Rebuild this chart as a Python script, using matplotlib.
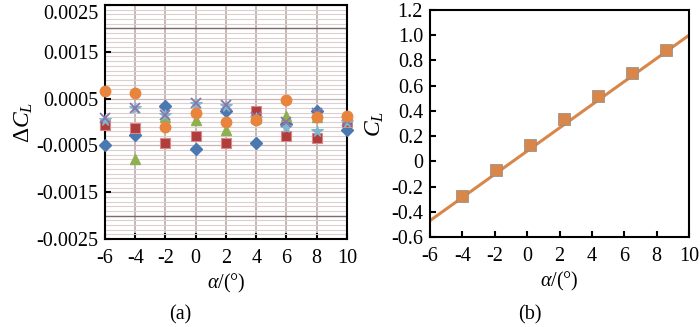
import numpy as np
import matplotlib
matplotlib.use('Agg')
import matplotlib.pyplot as plt
from matplotlib.ticker import MultipleLocator

plt.rcParams['font.family'] = ['Liberation Serif', 'DejaVu Serif']
plt.rcParams['mathtext.fontset'] = 'custom'
plt.rcParams['mathtext.rm'] = 'Liberation Serif'
plt.rcParams['mathtext.it'] = 'Liberation Serif:italic'
plt.rcParams['axes.unicode_minus'] = False

# (a) 升力系数偏差
alpha_a = [-6, -4, -2, 0, 2, 4, 6, 8, 10]
dcl_blue = [-0.00050, -0.00027, 0.00034, -0.00057, 0.00023, -0.00045, -0.00005, 0.00023, -0.00016]
dcl_red = [-0.00006, -0.00013, -0.00045, -0.00030, -0.00044, 0.00023, -0.00030, -0.00034, 0.00001]
dcl_green = [-0.00005, -0.00080, 0.00010, 0.00005, -0.00018, 0.00008, 0.00012, 0.00010, 0.00005]
dcl_purple = [0.00009, 0.00030, 0.00016, 0.00041, 0.00037, 0.00010, 0.00000, 0.00020, 0.00003]
dcl_aqua = [0.00005, 0.00030, 0.00014, 0.00039, 0.00035, 0.00008, -0.00010, -0.00020, 0.00000]
dcl_orange = [0.00066, 0.00062, -0.00011, 0.00020, 0.00000, 0.00004, 0.00048, 0.00011, 0.00012]
limit_lines = [0.002, -0.002]

# (b) 升力系数
alpha_b = [-4, -1.9, 0.2, 2.3, 4.4, 6.5, 8.6]
cl_b = [-0.275, -0.07, 0.129, 0.333, 0.518, 0.703, 0.883]
fit_x = [-6, 10]
fit_y = [-0.47, 1.0]

fig = plt.figure(figsize=(7, 3.27), dpi=100)
ax1 = fig.add_axes([0.15, 0.269, 0.3457, 0.7157])
ax2 = fig.add_axes([0.6143, 0.2752, 0.37, 0.6942])

fs = 14.5

# ---- (a)
ax1.set_xlim(-6, 10)
ax1.set_ylim(-0.0025, 0.0025)
ax1.set_xticks(range(-6, 11, 2))
ax1.set_yticks([0.0025, 0.0015, 0.0005, -0.0005, -0.0015, -0.0025])
ax1.set_yticklabels(['0.0025', '0.0015', '0.0005', '-0.0005', '-0.0015', '-0.0025'])
ax1.yaxis.set_minor_locator(MultipleLocator(0.0001))
ax1.grid(which='minor', axis='y', color='#dccfcf', lw=0.8)
ax1.grid(which='major', axis='y', color='#c7b5b5', lw=0.9)
ax1.grid(which='major', axis='x', color='#c2b0b0', lw=1.3)
ax1.tick_params(which='minor', left=False)
ax1.set_axisbelow(True)
for v in limit_lines:
    ax1.axhline(v, color='#7d6b6b', lw=1.0, zorder=1)

kw = dict(linestyle='none', clip_on=False, zorder=3)
ax1.plot(alpha_a, dcl_blue, marker='D', ms=6.5, color='#4a78b0', **kw)
ax1.plot(alpha_a, dcl_green, marker='^', ms=7.5, color='#8fb050', **kw)
ax1.plot(alpha_a, dcl_red, marker='s', ms=7.5, color='#b03c3c', mec='#d88a8a', mew=0.8, **kw)
ax1.plot(alpha_a, dcl_aqua, marker='*', ms=8.5, color='#7fb8cc', mew=0.8, **kw)
ax1.plot(alpha_a, dcl_purple, marker='x', ms=7.5, color='#8c74a8', mew=1.3, **kw)
ax1.plot(alpha_a, dcl_orange, marker='o', ms=7.5, color='#e8843c', **kw)

ax1.set_xlabel(r'$\alpha$/(°)', fontsize=fs, labelpad=3)
ax1.set_ylabel(r'$\Delta C_L$', fontsize=17, labelpad=1)

# ---- (b)
ax2.set_xlim(-6, 10)
ax2.set_ylim(-0.6, 1.2)
ax2.set_xticks(range(-6, 11, 2))
ax2.set_yticks(np.arange(-0.6, 1.21, 0.2))
ax2.set_yticklabels(['-0.6', '-0.4', '-0.2', '0', '0.2', '0.4', '0.6', '0.8', '1.0', '1.2'])
ax2.plot(fit_x, fit_y, color='#d9864a', lw=2.2, zorder=2)
ax2.plot(alpha_b, cl_b, linestyle='none', marker='s', ms=8, color='#d9864a',
         mec='#8a8a8a', mew=0.5, zorder=3)
ax2.set_xlabel(r'$\alpha$/(°)', fontsize=fs, labelpad=3)
ax2.set_ylabel(r'$C_L$', fontsize=17, labelpad=4)

for ax in (ax1, ax2):
    for s in ax.spines.values():
        s.set_linewidth(1.5)
        s.set_color('black')
    ax.tick_params(which='major', direction='in', length=4, width=1.5,
                   labelsize=fs)
    ax.tick_params(axis='x', pad=7)
    ax.tick_params(axis='y', pad=5)

# top label sits just below its tick, as in the original
fig.canvas.draw()
ax1.get_yticklabels()[0].set_verticalalignment('top')

fig.text(180 / 700, 1 - 315 / 327, '(a)', fontsize=fs, ha='center', va='center')
fig.text(530 / 700, 1 - 315 / 327, '(b)', fontsize=fs, ha='center', va='center')

fig.savefig('out.png', dpi=100)
